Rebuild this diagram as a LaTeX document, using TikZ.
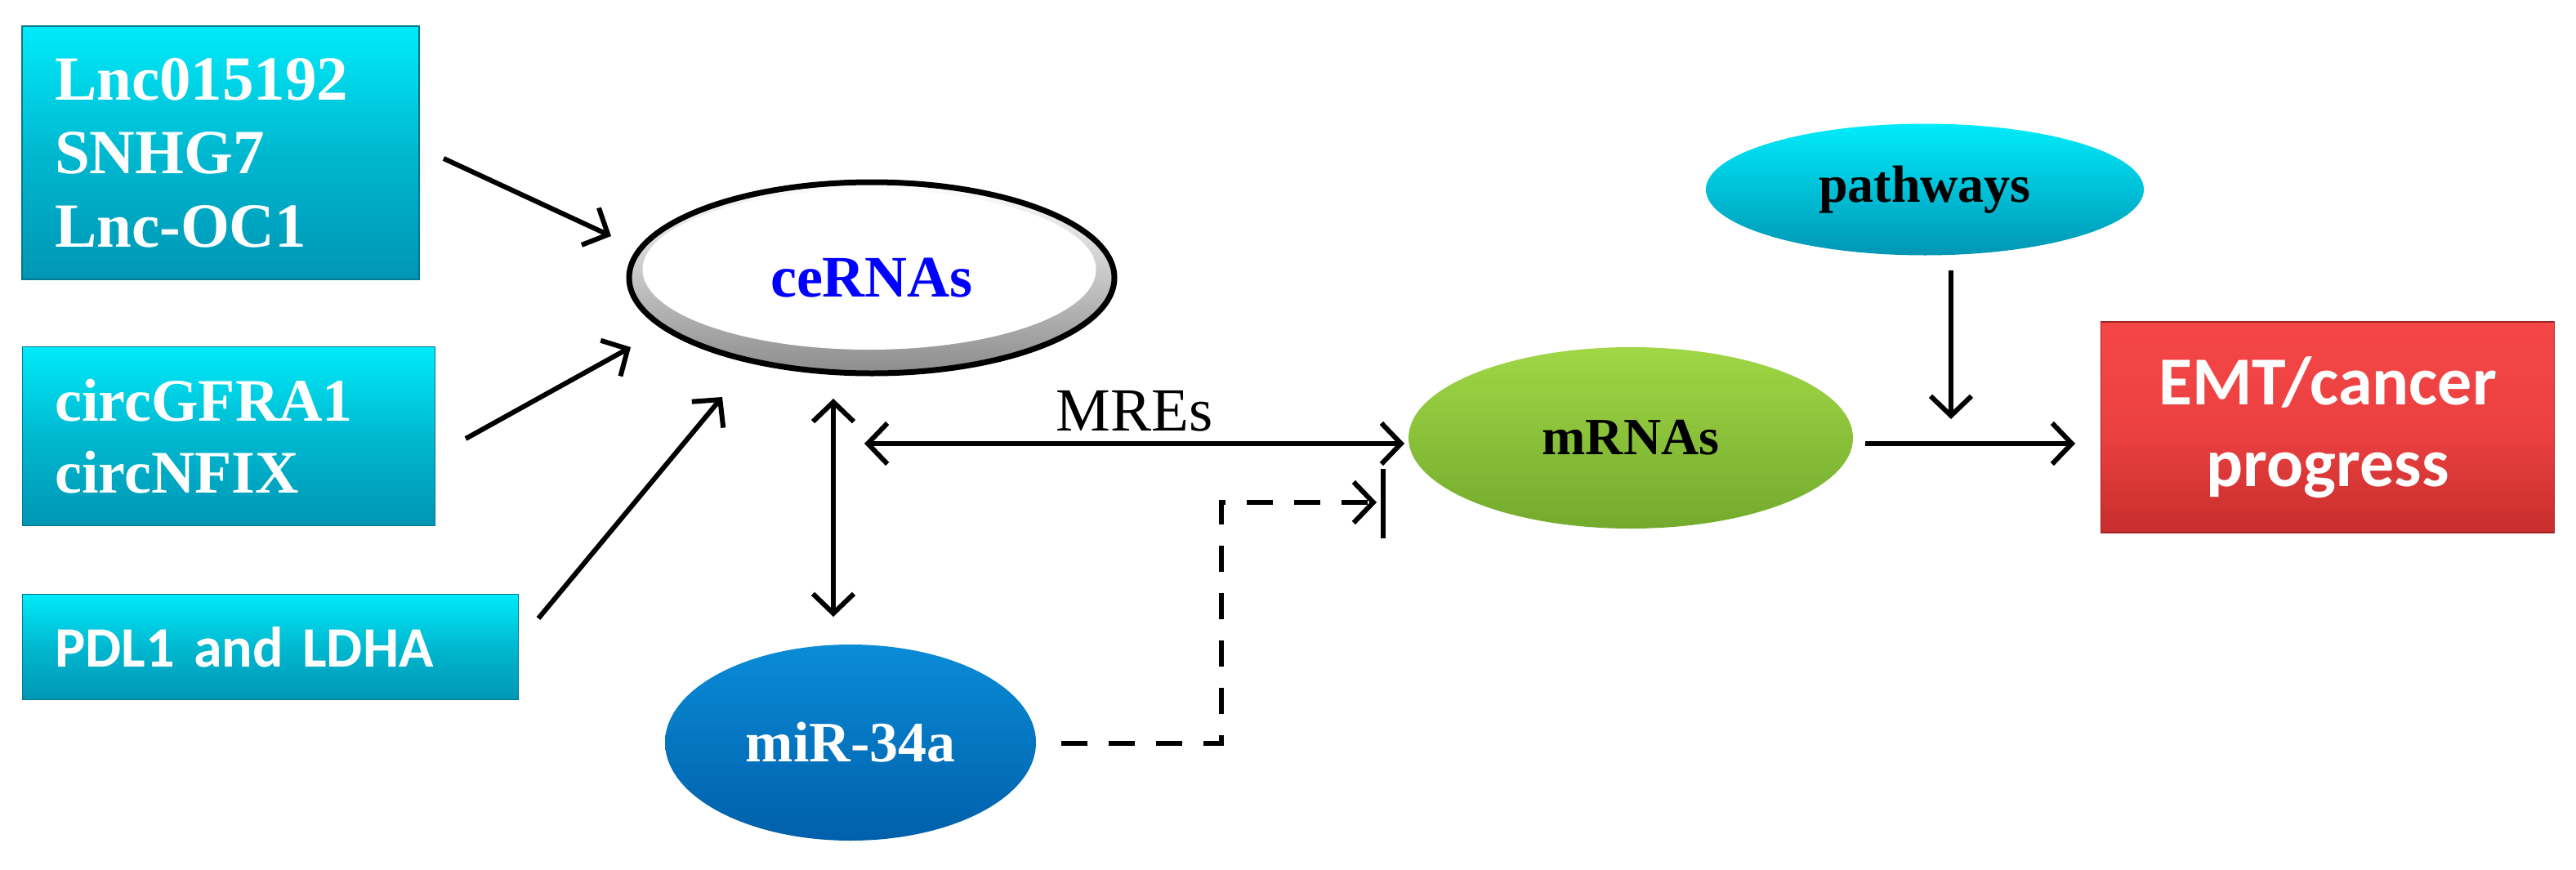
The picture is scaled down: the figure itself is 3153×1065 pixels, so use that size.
\documentclass[tikz,border=0pt]{standalone}
\usepackage{fontspec}
\setmainfont{Liberation Serif}
\newfontfamily\carfont{Carlito}
\usetikzlibrary{arrows.meta,shapes.geometric}
\definecolor{cyanT}{RGB}{0,235,250}
\definecolor{cyanB}{RGB}{0,150,180}
\definecolor{redT}{RGB}{245,70,70}
\definecolor{redB}{RGB}{200,45,45}
\definecolor{grnT}{RGB}{160,215,70}
\definecolor{grnB}{RGB}{115,170,45}
\definecolor{bluT}{RGB}{10,140,215}
\definecolor{bluB}{RGB}{0,95,170}
\tikzset{
 box/.style={rectangle,draw=cyanB!80!black,line width=1.5pt,top color=cyanT,bottom color=cyanB,middle color=cyanB!60!cyanT,
   text=white,font=\bfseries,align=left,inner xsep=40pt,inner ysep=0pt},
 ell/.style={ellipse,inner sep=0pt},
 arr/.style={line width=6pt,-{Straight Barb[length=24pt,width=50pt,line width=6pt]}},
 darr/.style={line width=6pt,{Straight Barb[length=24pt,width=50pt,line width=6pt]}-{Straight Barb[length=24pt,width=50pt,line width=6pt]}},
}
\begin{document}
\begin{tikzpicture}[x=1pt,y=-1pt]
\useasboundingbox (0,0) rectangle (3153,1065);
\fill[white] (0,0) rectangle (3153,1065);
% boxes
\node[box,text width=406pt,minimum height=310pt,font=\bfseries\fontsize{77}{90}\selectfont] (b1) at (270,187) {Lnc015192\\SNHG7\\Lnc-OC1};
\node[box,text width=425pt,minimum height=219pt,font=\bfseries\fontsize{74}{88}\selectfont] (b2) at (280,534) {circGFRA1\\circNFIX};
\node[box,text width=527pt,minimum height=129pt,font=\carfont\bfseries\fontsize{70}{80}\selectfont] (b3) at (331,792) {PDL1 and LDHA};
% ceRNAs
\node[ell,minimum width=594pt,minimum height=234pt,draw=black,line width=7pt,top color=white,bottom color=gray!90] (ce) at (1067,340) {};
\node[ell,minimum width=555pt,minimum height=196pt,fill=white] (cein) at (1064,330) {};
\node[text=blue,font=\bfseries\fontsize{72}{80}\selectfont] (cet) at (1067,340) {ceRNAs};
% miR-34a
\node[ell,minimum width=454pt,minimum height=240pt,top color=bluT,bottom color=bluB,text=white,font=\bfseries\fontsize{70}{80}\selectfont] (mir) at (1041,909) {miR-34a};
% mRNAs
\node[ell,minimum width=544pt,minimum height=222pt,top color=grnT,bottom color=grnB,font=\bfseries\fontsize{64}{70}\selectfont] (mr) at (1996,536) {mRNAs};
% pathways
\node[ell,minimum width=536pt,minimum height=161pt,top color=cyanT,bottom color=cyanB,font=\bfseries\fontsize{64}{70}\selectfont] (pw) at (2356,232) {pathways};
% EMT
\node[rectangle,minimum width=555pt,minimum height=258pt,draw=redB!80!black,line width=1.5pt,top color=redT,bottom color=redB,middle color=redT!80!redB,
  text=white,align=center,font=\carfont\bfseries\fontsize{84}{100}\selectfont] (emt) at (2849,523) {EMT/cancer\\progress};
% coordinates
\coordinate (a1s) at (543,194); \coordinate (a1e) at (748,289);
\coordinate (a2s) at (570,537); \coordinate (a2e) at (772,425);
\coordinate (a3s) at (659,757); \coordinate (a3e) at (884,486);
\coordinate (vs) at (1020,488); \coordinate (ve) at (1020,755);
\coordinate (hs) at (1058,543); \coordinate (he) at (1719,543);
\coordinate (ds) at (1299,910); \coordinate (dc1) at (1495,910); \coordinate (dc2) at (1495,615); \coordinate (de) at (1685,615);
\coordinate (bt) at (1693,574); \coordinate (bb) at (1693,659);
\coordinate (ps) at (2388,331); \coordinate (pe) at (2388,513);
\coordinate (es) at (2283,543); \coordinate (ee) at (2540,543);
\draw[arr] (a1s) -- (a1e);
\draw[arr] (a2s) -- (a2e);
\draw[arr] (a3s) -- (a3e);
\draw[darr] (vs) -- (ve);
\draw[darr] (hs) -- node[above=8pt,font=\fontsize{75}{80}\selectfont] (mre) {MREs} (he);
\draw[arr,dash pattern=on 32pt off 26pt] (ds) -- (dc1) -- (dc2) -- (de);
\draw[line width=6pt] (bt) -- (bb);
\draw[arr] (ps) -- (pe);
\draw[arr] (es) -- (ee);
\end{tikzpicture}
\end{document}
